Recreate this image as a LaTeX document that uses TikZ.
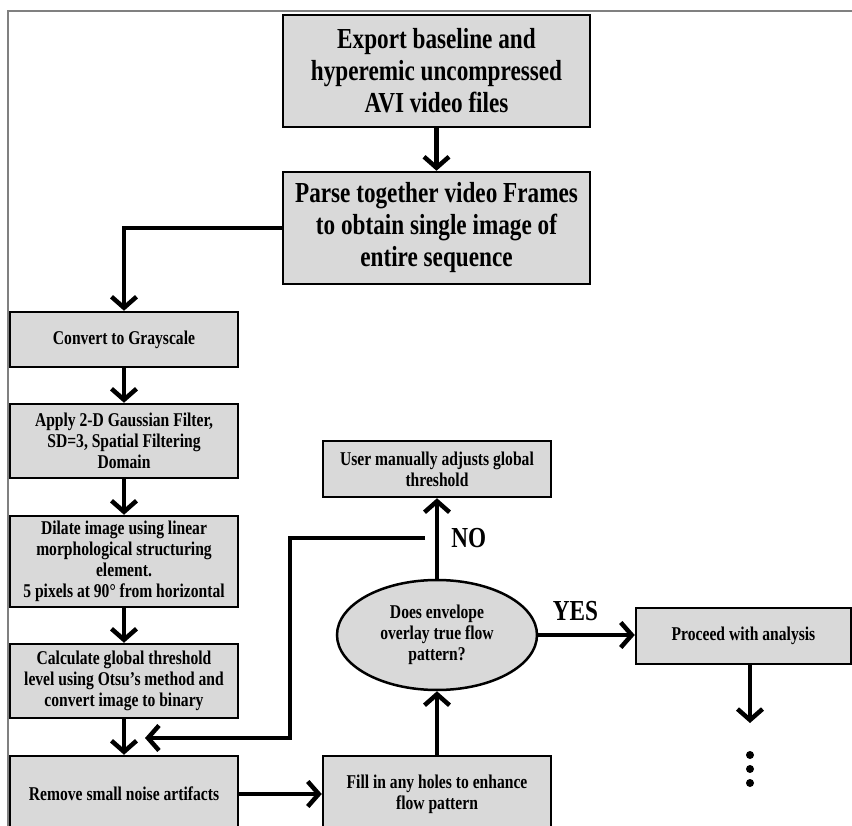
\documentclass[tikz,border=0pt]{standalone}
\usepackage{fontspec}
\setmainfont{Liberation Serif}[FakeStretch=0.8]
\usetikzlibrary{arrows.meta,shapes.geometric}
\definecolor{boxgray}{HTML}{D9D9D9}

\begin{document}
\begin{tikzpicture}[x=1pt, y=-1pt,
  box/.style={draw, line width=2.5pt, fill=boxgray, align=center, inner sep=0pt,
    minimum width=228pt, font=\bfseries\fontsize{19.5}{21}\selectfont},
  bigbox/.style={box, minimum width=307pt, minimum height=112pt,
    font=\bfseries\fontsize{29}{32}\selectfont},
  check/.style={box, ellipse, minimum width=200pt, minimum height=110pt},
  arr/.style={line width=4.5pt, -{Straight Barb[length=11pt, width=25pt]}},
  lbl/.style={font=\bfseries\fontsize{29}{32}\selectfont, inner sep=0pt}]
  \useasboundingbox (0,0) rectangle (852,826);
  \draw[gray, line width=1.5pt] (8,826) -- (8,11) -- (852,11);
  \node[bigbox] (export) at (436.5,71) {Export baseline and\\hyperemic uncompressed\\AVI video files};
  \node[bigbox] (parse) at (436.5,228) {Parse together video Frames\\to obtain single image of\\entire sequence};
  \node[box, minimum height=55pt] (gray) at (124,339.5) {Convert to Grayscale};
  \node[box, minimum height=74pt] (gauss) at (124,441) {Apply 2-D Gaussian Filter,\\SD=3, Spatial Filtering\\Domain};
  \node[box, minimum height=91pt] (dilate) at (124,561.5) {Dilate image using linear\\morphological structuring\\element.\\5 pixels at 90° from horizontal};
  \node[box, minimum height=74pt] (otsu) at (124,681) {Calculate global threshold\\level using Otsu’s method and\\convert image to binary};
  \node[box, minimum height=76pt] (noise) at (124,794) {Remove small noise artifacts};
  \node[box, minimum height=76pt] (fill) at (437,794) {Fill in any holes to enhance\\flow pattern};
  \node[check] (check) at (437,635) {Does envelope\\overlay true flow\\pattern?};
  \node[box, minimum height=56pt] (user) at (437,469) {User manually adjusts global\\threshold};
  \node[box, minimum width=215pt, minimum height=56pt] (proceed) at (743.5,636) {Proceed with analysis};
  \coordinate (ret) at (425,538);
  \coordinate (retdown) at (290,738);
  \coordinate (retend) at (145,738);
  \coordinate (more) at (750,723);
  \draw[arr] (export) -- (parse);
  \draw[arr] (parse.west) -| (gray.north);
  \draw[arr] (gray) -- (gauss);
  \draw[arr] (gauss) -- (dilate);
  \draw[arr] (dilate) -- (otsu);
  \draw[arr] (otsu) -- (noise);
  \draw[arr] (noise) -- (fill);
  \draw[arr] (fill) -- (check);
  \draw[arr] (check) -- node[lbl, right=12pt] {NO} (user);
  \draw[arr] (check.east) -- node[lbl, above=12pt, xshift=-11pt] {YES} (check.east -| proceed.west);
  \draw[arr] (ret) -| (retdown) -- (retend);
  \draw[arr] (proceed.south -| more) -- (more);
  \foreach \y in {755,769,783}
    \fill (750,\y) circle (4pt);
\end{tikzpicture}
\end{document}
